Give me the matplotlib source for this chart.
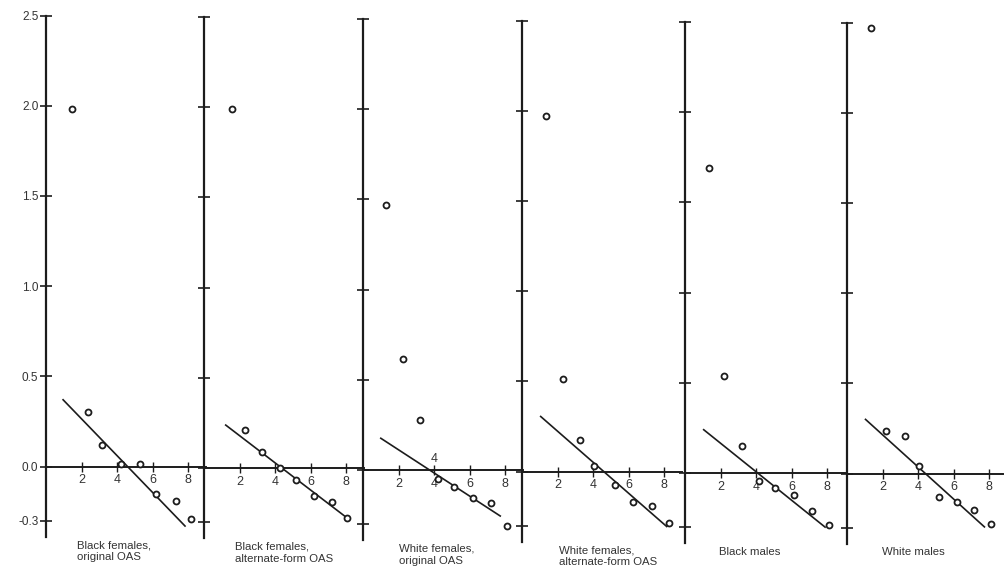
import matplotlib
matplotlib.use("Agg")
import matplotlib.pyplot as plt
from matplotlib import font_manager

# pick a narrow sans if there is one, the scan uses a condensed face
fam = "DejaVu Sans"
for f in ["Liberation Sans Narrow", "Liberation Sans", "Roboto"]:
    try:
        font_manager.findfont(f, fallback_to_default=False)
        fam = f
        break
    except Exception:
        pass
plt.rcParams["font.family"] = [fam, "DejaVu Sans"]

panel_labels = [
    "Black females,\noriginal OAS",
    "Black females,\nalternate-form OAS",
    "White females,\noriginal OAS",
    "White females,\nalternate-form OAS",
    "Black males",
    "White males",
]

# points (x in axis units, y in score units)
x_pts = [
    [1.47, 2.34, 3.13, 4.19, 5.26, 6.20, 7.28, 8.17],
    [1.60, 2.28, 3.26, 4.28, 5.17, 6.19, 7.20, 8.04],
    [1.28, 2.22, 3.20, 4.23, 5.14, 6.17, 7.20, 8.10],
    [1.34, 2.28, 3.26, 4.03, 5.20, 6.24, 7.33, 8.26],
    [1.33, 2.20, 3.20, 4.18, 5.06, 6.11, 7.11, 8.09],
    [1.37, 2.19, 3.26, 4.06, 5.16, 6.18, 7.11, 8.09],
]
y_pts = [
    [1.98, 0.30, 0.12, 0.015, 0.015, -0.155, -0.19, -0.29],
    [1.99, 0.21, 0.087, 0.0, -0.067, -0.155, -0.187, -0.275],
    [1.47, 0.615, 0.277, -0.05, -0.092, -0.157, -0.185, -0.31],
    [1.97, 0.514, 0.176, 0.028, -0.074, -0.17, -0.194, -0.286],
    [1.69, 0.54, 0.147, -0.043, -0.083, -0.12, -0.209, -0.29],
    [2.47, 0.234, 0.207, 0.042, -0.13, -0.157, -0.20, -0.28],
]

# fitted line ends
line_x0 = [0.96, 1.22, 1.00, 1.05, 1.05, 1.04]
line_y0 = [0.37, 0.238, 0.176, 0.305, 0.24, 0.30]
line_x1 = [7.81, 8.08, 7.71, 8.13, 7.87, 7.72]
line_y1 = [-0.33, -0.28, -0.255, -0.305, -0.30, -0.296]

y_ticks = [-0.3, 0.0, 0.5, 1.0, 1.5, 2.0, 2.5]
y_tick_labels = ["-0.3", "0.0", "0.5", "1.0", "1.5", "2.0", "2.5"]
x_ticks = [2, 4, 6, 8]

W, H = 1005, 571
fig = plt.figure(figsize=(W / 100, H / 100), dpi=100)

ink = "#1c1c1c"
unit_x = 17.8     # px per x unit
unit_y = 180.4    # px per y unit
ymin, ymax = -0.39, 2.5
lefts = [46, 204, 363, 522, 685, 847]
zero_y = [466.5, 468, 470, 471.5, 473, 473.5]   # the scan is a bit tilted
label_dx = [1.74, 1.74, 2.0, 2.1, 1.9, 1.97]

for i in range(6):
    xmax = 9.0 if i < 5 else (1003 - lefts[i]) / unit_x
    bottom_px = zero_y[i] - ymin * unit_y
    ax = fig.add_axes([lefts[i] / W, (H - bottom_px) / H,
                       xmax * unit_x / W, (ymax - ymin) * unit_y / H])
    ax.set_facecolor("none")
    ax.set_xlim(0, xmax)
    ax.set_ylim(ymin, ymax)

    for s in ["top", "right"]:
        ax.spines[s].set_visible(False)
    ax.spines["bottom"].set_position(("data", 0))
    ax.spines["left"].set_linewidth(1.6)
    ax.spines["bottom"].set_linewidth(1.4)
    ax.spines["left"].set_color(ink)
    ax.spines["bottom"].set_color(ink)

    ax.set_yticks(y_ticks)
    ax.set_xticks(x_ticks)
    ax.set_xticklabels([str(t) for t in x_ticks])
    ax.tick_params(axis="y", direction="inout", length=9, width=1.2, color=ink,
                   pad=1, labelsize=8.5, labelcolor="#333333")
    ax.tick_params(axis="x", direction="inout", length=7, width=1.0, color=ink,
                   pad=2, labelsize=9, labelcolor="#333333")
    if i == 0:
        ax.set_yticklabels(y_tick_labels)
    else:
        ax.tick_params(axis="y", labelleft=False)

    ax.plot([line_x0[i], line_x1[i]], [line_y0[i], line_y1[i]],
            color=ink, lw=1.2, clip_on=False)
    ax.plot(x_pts[i], y_pts[i], "o", ms=4.3, mfc="white", mec=ink, mew=1.3,
            clip_on=False, zorder=3)

    ax.text(label_dx[i], -0.41, panel_labels[i], ha="left", va="top",
            fontsize=8.2, color="#333333", linespacing=1.2, clip_on=False)

    if i == 2:
        # stray digit printed above the axis in the scan
        ax.text(4.0, 0.06, "4", ha="center", va="center", fontsize=9,
                color="#333333")

fig.savefig("out.png", dpi=100)
